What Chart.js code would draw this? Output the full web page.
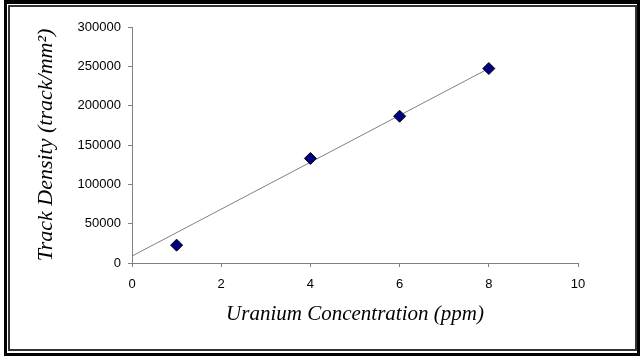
<!DOCTYPE html>
<html lang="en">
<head>
    <meta charset="UTF-8">
    <title>Track Density vs Uranium Concentration</title>
    <script src="https://cdn.jsdelivr.net/npm/chart.js"></script>
    <style>
        body {
            margin: 0;
            background: #fff;
            width: 640px;
            height: 358px;
            overflow: hidden;
            position: relative;
        }
        .frame-outer {
            position: absolute;
            left: 4px;
            top: 0;
            width: 630px;
            height: 349px;
            border: 3px solid #000;
            border-top-width: 4px;
        }
        .frame-inner {
            position: absolute;
            left: 8px;
            top: 5px;
            width: 625px;
            height: 342px;
            border: 2px solid #333;
        }
        .chart-box {
            position: absolute;
            left: 0;
            top: 0;
            width: 640px;
            height: 358px;
        }
    </style>
</head>
<body>
    <div class="frame-outer"></div>
    <div class="frame-inner"></div>
    <div class="chart-box">
        <canvas id="chart"></canvas>
    </div>

    <script>
        // values
        const concentration = [1, 4, 6, 8];
        const trackDensity = [22700, 132900, 186600, 247200];
        const trendX = [0, 8];
        const trendY = [8800, 247300];
        const xTicks = [0, 2, 4, 6, 8, 10];
        const yTicks = [0, 50000, 100000, 150000, 200000, 250000, 300000];

        const axisGray = '#808080';
        const serif = "'Liberation Serif', 'Times New Roman', serif";
        const sans = "'Liberation Sans', Arial, sans-serif";

        const ctx = document.getElementById('chart').getContext('2d');
        new Chart(ctx, {
            type: 'scatter',
            data: {
                datasets: [
                    {
                        label: 'Trend',
                        data: trendX.map((x, i) => ({ x: x, y: trendY[i] })),
                        showLine: true,
                        borderColor: axisGray,
                        borderWidth: 1,
                        pointRadius: 0,
                        order: 2
                    },
                    {
                        label: 'Track Density',
                        data: concentration.map((x, i) => ({ x: x, y: trackDensity[i] })),
                        pointStyle: 'rectRot',
                        pointRadius: 6,
                        pointBackgroundColor: '#000080',
                        pointBorderColor: '#000',
                        pointBorderWidth: 1,
                        order: 1
                    }
                ]
            },
            options: {
                responsive: true,
                maintainAspectRatio: false,
                animation: false,
                layout: {
                    padding: { left: 29, right: 62, top: 27, bottom: 27 }
                },
                plugins: {
                    legend: { display: false },
                    tooltip: { enabled: false }
                },
                scales: {
                    x: {
                        type: 'linear',
                        min: 0,
                        max: 10,
                        afterBuildTicks: axis => { axis.ticks = xTicks.map(v => ({ value: v })); },
                        afterFit: axis => { axis.height = 68; },
                        border: { display: true, color: axisGray, width: 1 },
                        grid: { drawOnChartArea: false, drawTicks: true, tickLength: 4, color: axisGray },
                        ticks: {
                            padding: 10,
                            color: '#000',
                            font: { family: sans, size: 13 }
                        },
                        title: {
                            display: true,
                            text: 'Uranium Concentration (ppm)',
                            color: '#000',
                            font: { family: serif, size: 21, style: 'italic' }
                        }
                    },
                    y: {
                        type: 'linear',
                        min: 0,
                        max: 300000,
                        afterBuildTicks: axis => { axis.ticks = yTicks.map(v => ({ value: v })); },
                        afterFit: axis => { axis.width = 103; },
                        border: { display: true, color: axisGray, width: 1 },
                        grid: { drawOnChartArea: false, drawTicks: true, tickLength: 4, color: axisGray },
                        ticks: {
                            padding: 7,
                            color: '#000',
                            font: { family: sans, size: 13 },
                            callback: v => String(v)
                        },
                        title: {
                            display: true,
                            text: 'Track Density (track/mm\u00b2)',
                            color: '#000',
                            font: { family: serif, size: 22, style: 'italic' }
                        }
                    }
                }
            }
        });
    </script>
</body>
</html>
